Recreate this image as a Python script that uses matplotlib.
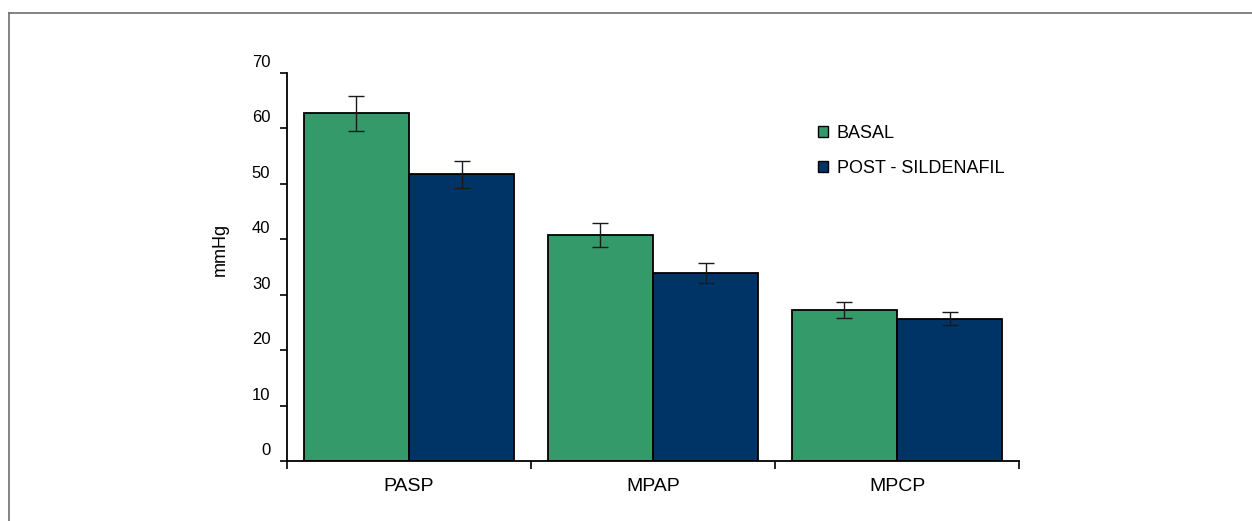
import numpy as np
import matplotlib
matplotlib.use("Agg")
import matplotlib.pyplot as plt
import matplotlib.transforms as mtransforms
from matplotlib.patches import Patch
from matplotlib.lines import Line2D

# Data
categories = ["PASP", "MPAP", "MPCP"]
series_names = ["BASAL", "POST - SILDENAFIL"]
basal = [62.7, 40.8, 27.2]
basal_err = [3.15, 2.15, 1.45]
post = [51.7, 34.0, 25.7]
post_err = [2.5, 1.8, 1.2]
y_ticks = [0, 10, 20, 30, 40, 50, 60, 70]

GREEN = "#359A6A"
NAVY = "#003366"

plt.rcParams["font.family"] = ["Liberation Sans", "DejaVu Sans"]

fig = plt.figure(figsize=(12.52, 5.21), dpi=100)
ax = fig.add_axes([287 / 1252, 60 / 521, 732 / 1252, 388 / 521])

x = np.arange(len(categories)) + 0.5
width = 0.432

ax.bar(x - width / 2, basal, width, color=GREEN, edgecolor="black", linewidth=1.3)
ax.bar(x + width / 2, post, width, color=NAVY, edgecolor="black", linewidth=1.3)
ax.errorbar(x - width / 2, basal, yerr=basal_err, fmt="none", ecolor="#1a1a1a",
            elinewidth=1.0, capsize=6, capthick=1.0)
ax.errorbar(x + width / 2, post, yerr=post_err, fmt="none", ecolor="#1a1a1a",
            elinewidth=1.0, capsize=6, capthick=1.0)

ax.set_xlim(0, 3)
ax.set_ylim(0, 70)

for side in ["top", "right"]:
    ax.spines[side].set_visible(False)
for side in ["left", "bottom"]:
    ax.spines[side].set_linewidth(1.3)

# y ticks: labels sit above their tick marks
ax.set_yticks(y_ticks)
ax.tick_params(axis="y", direction="out", length=5, width=1.2, pad=7, labelsize=12)
offset = mtransforms.ScaledTranslation(0, 12 / 100, fig.dpi_scale_trans)
for lab in ax.get_yticklabels():
    lab.set_transform(lab.get_transform() + offset)

# x: separator ticks at the group edges, names at the centers
ax.set_xticks([0, 1, 2, 3])
ax.set_xticklabels([])
ax.tick_params(axis="x", which="major", direction="out", length=6, width=1.2)
ax.set_xticks(x, minor=True)
ax.set_xticklabels(categories, minor=True)
ax.tick_params(axis="x", which="minor", length=0, pad=12, labelsize=14)

fig.text(220 / 1252, 1 - 249 / 521, "mmHg", rotation=90, ha="center", va="center",
         fontsize=13)

handles = [Patch(facecolor=GREEN, edgecolor="black", linewidth=1.0),
           Patch(facecolor=NAVY, edgecolor="black", linewidth=1.0)]
ax.legend(handles, series_names, loc="upper left",
          bbox_to_anchor=(818 / 1252, 1 - 125 / 521), bbox_transform=fig.transFigure,
          frameon=False, fontsize=13, borderpad=0, borderaxespad=0,
          handlelength=0.55, handleheight=0.55, handletextpad=0.5, labelspacing=1.0)

# thin gray frame, cut off at right and bottom
fig.add_artist(Line2D([9 / 1252, 9 / 1252], [0, 1 - 13 / 521], transform=fig.transFigure,
                      color="#6e6e6e", linewidth=1.2))
fig.add_artist(Line2D([9 / 1252, 1], [1 - 13 / 521, 1 - 13 / 521], transform=fig.transFigure,
                      color="#6e6e6e", linewidth=1.2))

fig.savefig("out.png", dpi=100)
